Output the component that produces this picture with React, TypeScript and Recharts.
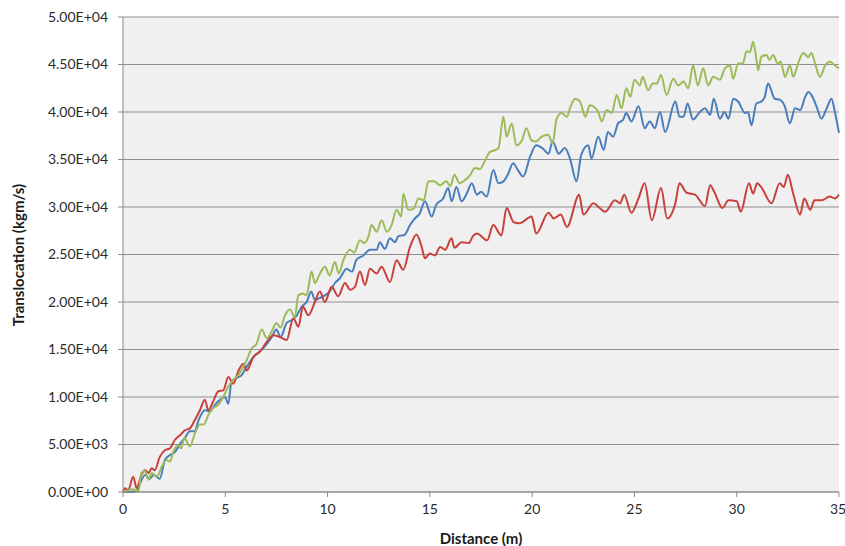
import { CartesianGrid, Line, LineChart, XAxis, YAxis } from 'recharts';

const redDistance = [
  0, 0.1, 0.25, 0.5, 0.67, 0.9, 1.08, 1.25, 1.4, 1.55, 1.8, 2.05, 2.3, 2.54, 2.8, 3.03, 3.27, 3.52, 3.76, 4.0,
  4.17, 4.4, 4.66, 4.9, 5.15, 5.39, 5.63, 5.88, 6.05, 6.37, 6.7, 7.03, 7.35, 7.67, 8.0, 8.33, 8.57, 8.8, 9.06, 9.38,
  9.62, 9.87, 10.2, 10.52, 10.85, 11.1, 11.34, 11.58, 11.83, 12.07, 12.4, 12.64, 13.05, 13.37, 13.7, 14.03, 14.35,
  14.6, 14.76, 15.0, 15.25, 15.5, 15.75, 16.06, 16.2, 16.55, 16.9, 17.1, 17.3, 17.8, 18.1, 18.5, 18.75, 19.1, 19.4,
  19.97, 20.2, 20.8, 21.05, 21.4, 21.7, 22.3, 22.5, 23.0, 23.3, 23.57, 24.05, 24.3, 24.5, 24.85, 25.2, 25.5, 25.85,
  26.3, 26.6, 27.0, 27.2, 27.55, 27.96, 28.45, 28.7, 28.9, 29.3, 29.6, 30.0, 30.2, 30.6, 30.8, 31.0, 31.2, 31.7,
  32.1, 32.3, 32.5, 32.75, 33.1, 33.3, 33.6, 33.8, 34.15, 34.55, 34.8, 35.0,
];
const redValues = [
  0, 400, 200, 1600, 400, 1800, 2300, 2000, 2500, 2300, 3700, 4400, 4600, 5500, 6000, 6500, 6700, 7600, 8600, 9700,
  8600, 9500, 10600, 10700, 12100, 11400, 12700, 13500, 12800, 14200, 14800, 15800, 16500, 16300, 16000, 18300,
  17400, 19500, 18600, 20000, 21100, 20000, 21600, 20600, 22000, 21300, 21600, 23200, 21800, 23500, 23000, 23700,
  22100, 24400, 23400, 25800, 27100, 25800, 24600, 25100, 24900, 25800, 25500, 26700, 25700, 26300, 26200, 26900,
  27200, 26500, 28100, 27000, 29900, 28400, 28300, 29000, 27200, 29400, 28800, 29200, 27900, 31300, 29200, 30400,
  29900, 29500, 30700, 30400, 31300, 29400, 30900, 32500, 28600, 32000, 28800, 30400, 32500, 31500, 31300, 30100,
  32300, 31600, 29900, 30700, 30600, 29500, 32500, 31400, 32500, 32100, 30400, 32500, 32100, 33400, 31500, 29200,
  30900, 29700, 30700, 30700, 31100, 30900, 31300,
];

const blueDistance = [
  0, 0.35, 0.67, 0.83, 1.08, 1.3, 1.5, 1.8, 2.05, 2.3, 2.54, 2.8, 3.03, 3.27, 3.5, 3.7, 4.0, 4.25, 4.5, 4.74, 4.98,
  5.15, 5.3, 5.55, 5.8, 6.05, 6.37, 6.7, 7.03, 7.27, 7.5, 7.7, 8.0, 8.25, 8.5, 8.73, 8.98, 9.2, 9.38, 9.6, 9.87,
  10.1, 10.36, 10.6, 10.93, 11.2, 11.4, 11.75, 12.07, 12.4, 12.55, 12.8, 13.05, 13.3, 13.45, 13.78, 14.03, 14.27,
  14.5, 14.76, 15.09, 15.3, 15.65, 15.9, 16.06, 16.3, 16.55, 16.8, 17.05, 17.3, 17.5, 17.78, 18.1, 18.35, 18.6,
  18.83, 19.07, 19.3, 19.56, 19.9, 20.2, 20.5, 20.8, 21.0, 21.3, 21.6, 21.85, 22.17, 22.4, 22.74, 22.9, 23.23, 23.5,
  23.7, 23.96, 24.2, 24.45, 24.6, 24.85, 25.2, 25.5, 25.75, 26.0, 26.25, 26.5, 27.0, 27.2, 27.4, 27.6, 27.86, 28.2,
  28.45, 28.7, 28.88, 29.18, 29.4, 29.6, 29.83, 30.07, 30.4, 30.55, 30.72, 30.96, 31.2, 31.37, 31.53, 31.86, 32.1,
  32.35, 32.6, 32.85, 33.1, 33.35, 33.5, 33.65, 33.9, 34.14, 34.4, 34.63, 34.8, 35.0,
];
const blueValues = [
  0, 0, 100, 900, 1800, 1400, 1800, 1400, 3400, 3900, 4200, 5100, 5700, 6400, 6400, 7600, 8600, 8500, 9200, 9700,
  10000, 9300, 11600, 12000, 12300, 13200, 14200, 14800, 15600, 16300, 17100, 16300, 17800, 18100, 18600, 19500,
  20000, 21100, 20200, 20400, 20700, 21100, 22000, 22500, 23500, 23200, 24400, 24900, 25500, 25500, 26300, 25600,
  26700, 26300, 26900, 27100, 28100, 28800, 29300, 30600, 29000, 30200, 30900, 32000, 30600, 32100, 30600, 31400,
  32500, 31300, 31600, 31100, 33900, 32500, 32700, 33500, 34600, 33900, 33200, 35300, 36500, 36200, 35600, 36900,
  35600, 36200, 35100, 32700, 35500, 36500, 35100, 37400, 36000, 37900, 37400, 38800, 39200, 39900, 39000, 40600,
  38300, 39000, 38300, 40000, 37900, 41100, 39500, 39500, 40900, 39200, 40000, 40400, 39700, 41400, 39300, 40000,
  39300, 41400, 41100, 39900, 40000, 38600, 40900, 41100, 41600, 43000, 41400, 41300, 40600, 38800, 40400, 40200,
  41600, 42100, 41800, 40600, 39300, 40400, 41400, 40000, 37800,
];

const greenDistance = [
  0, 0.3, 0.5, 0.75, 0.9, 1.08, 1.24, 1.4, 1.65, 1.9, 2.13, 2.3, 2.45, 2.7, 2.85, 3.0, 3.27, 3.52, 3.76, 3.95, 4.17,
  4.4, 4.66, 4.9, 5.15, 5.39, 5.63, 5.88, 6.05, 6.28, 6.53, 6.78, 7.03, 7.27, 7.5, 7.7, 7.92, 8.16, 8.4, 8.57, 8.8,
  8.97, 9.22, 9.38, 9.63, 9.87, 10.1, 10.36, 10.55, 10.77, 11.1, 11.3, 11.58, 11.8, 12.0, 12.15, 12.4, 12.64, 12.9,
  13.13, 13.37, 13.6, 13.7, 13.95, 14.2, 14.44, 14.7, 14.93, 15.2, 15.5, 15.8, 16.0, 16.2, 16.45, 16.7, 16.95, 17.2,
  17.45, 17.7, 17.94, 18.2, 18.35, 18.6, 18.75, 19.0, 19.23, 19.5, 19.72, 19.97, 20.2, 20.46, 20.78, 21.0, 21.2,
  21.44, 21.7, 21.85, 22.1, 22.34, 22.6, 22.82, 23.05, 23.25, 23.4, 23.64, 23.9, 24.13, 24.37, 24.6, 24.8, 25.0,
  25.27, 25.4, 25.67, 25.9, 26.1, 26.3, 26.57, 26.9, 27.14, 27.4, 27.63, 27.87, 28.1, 28.36, 28.6, 28.85, 29.18,
  29.42, 29.67, 29.83, 30.07, 30.3, 30.48, 30.65, 30.8, 30.92, 31.05, 31.2, 31.45, 31.6, 31.78, 32.0, 32.15, 32.36,
  32.6, 32.76, 33.0, 33.25, 33.5, 33.65, 33.83, 34.07, 34.32, 34.56, 34.8, 35.0,
];
const greenValues = [
  0, 200, 300, 0, 2000, 2200, 1300, 2000, 1600, 2700, 3400, 3200, 4200, 4900, 4600, 5700, 4800, 6200, 7100, 7100,
  8100, 8800, 9200, 10000, 11100, 11800, 12300, 13200, 13900, 15100, 15600, 17100, 16200, 16900, 17800, 17300,
  18600, 19200, 18400, 20700, 20900, 20700, 23200, 22000, 23000, 23700, 22800, 24200, 23000, 24400, 25500, 25200,
  26500, 26200, 26900, 28100, 27400, 28600, 27400, 28100, 29700, 29000, 31400, 29700, 29800, 30900, 30700, 32700,
  32700, 32300, 32700, 32200, 33400, 32500, 32800, 33300, 34100, 34000, 34900, 35800, 36000, 36200, 39500, 37400,
  38800, 36500, 37000, 38300, 37000, 36900, 37400, 37600, 36700, 39300, 39900, 39500, 40400, 41400, 41100, 39500,
  40700, 40500, 39900, 39000, 40200, 39900, 41800, 40400, 42500, 41600, 43400, 42800, 43700, 42300, 43000, 43000,
  43900, 41800, 43500, 42800, 43200, 42500, 44900, 42800, 44600, 42800, 43700, 43400, 44600, 44900, 43500, 45100,
  45100, 46400, 46300, 47400, 46200, 44400, 45800, 46000, 45500, 46000, 45100, 45300, 43700, 44900, 43700, 45100,
  46200, 45800, 46200, 45100, 43700, 44900, 45300, 44900, 44600,
];

const xTicks = [0, 5, 10, 15, 20, 25, 30, 35];
const yTicks = [0, 5000, 10000, 15000, 20000, 25000, 30000, 35000, 40000, 45000, 50000];

const toPoints = (xs: number[], ys: number[]) =>
  xs.map((distance, i) => ({ distance, value: ys[i] }));

const redData = toPoints(redDistance, redValues);
const blueData = toPoints(blueDistance, blueValues);
const greenData = toPoints(greenDistance, greenValues);

const sci = (v: number) => {
  if (v === 0) return '0.00E+00';
  const e = Math.floor(Math.log10(v));
  return (v / 10 ** e).toFixed(2) + 'E+' + String(e).padStart(2, '0');
};

const font = 'Lato, "Open Sans", sans-serif';
const tick = { fill: '#2b2b2b', fontSize: 14, fontFamily: font };

export default function App() {
  return (
    <div style={{ position: 'absolute', left: 0, top: 0, background: '#fff' }}>
      <LineChart width={845} height={546} margin={{ top: 17, right: 6, bottom: 0, left: 0 }}>
        <CartesianGrid vertical={false} stroke="#8f8f8f" fill="#f0f0f0" fillOpacity={1} />
        <XAxis
          type="number"
          dataKey="distance"
          domain={[0, 35]}
          ticks={xTicks}
          height={54}
          tick={tick}
          tickSize={5}
          tickMargin={7}
          stroke="#8a8a8a"
          label={{
            value: 'Distance (m)',
            position: 'insideBottom',
            offset: 2,
            style: { fontFamily: font, fontSize: 15, fontWeight: 700, fill: '#1a1a1a' },
          }}
        />
        <YAxis
          type="number"
          domain={[0, 50000]}
          ticks={yTicks}
          width={123}
          tick={tick}
          tickSize={5}
          tickMargin={10}
          tickFormatter={sci}
          stroke="#8a8a8a"
          label={{
            content: () => (
              <text
                x={18}
                y={255}
                transform="rotate(-90 18 255)"
                textAnchor="middle"
                dominantBaseline="central"
                style={{ fontFamily: font, fontSize: 15, fontWeight: 700, fill: '#1a1a1a' }}
              >
                Translocation (kgm/s)
              </text>
            ),
          }}
        />
        <Line
          data={blueData}
          dataKey="value"
          type="monotone"
          stroke="#4a7ebb"
          strokeWidth={2}
          dot={false}
          isAnimationActive={false}
        />
        <Line
          data={redData}
          dataKey="value"
          type="monotone"
          stroke="#c8403c"
          strokeWidth={2}
          dot={false}
          isAnimationActive={false}
        />
        <Line
          data={greenData}
          dataKey="value"
          type="monotone"
          stroke="#9bbb59"
          strokeWidth={2}
          dot={false}
          isAnimationActive={false}
        />
      </LineChart>
    </div>
  );
}
